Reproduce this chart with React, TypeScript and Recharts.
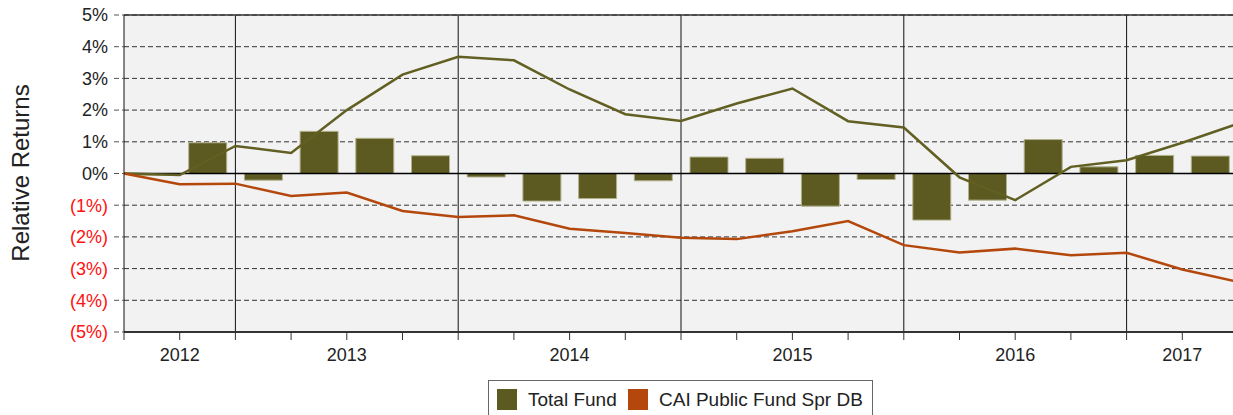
import React from "react"
import {
  ComposedChart,
  Bar,
  Line,
  XAxis,
  YAxis,
  CartesianGrid,
  ReferenceLine,
} from "recharts"

// quarterly relative return of Total Fund (bars)
const totalFundQuarterly = [
  -0.05, 0.97, -0.21, 1.33, 1.11, 0.56, -0.11, -0.87, -0.79, -0.23, 0.52, 0.48, -1.03, -0.19, -1.47, -0.84, 1.07,
  0.21, 0.57, 0.55,
]

// cumulative relative returns at quarter ends (lines)
const totalFundCumulative = [
  0, -0.05, 0.87, 0.65, 2.0, 3.12, 3.68, 3.57, 2.65, 1.87, 1.66, 2.21, 2.68, 1.65, 1.45, -0.12, -0.84, 0.21, 0.42,
  0.97, 1.57,
]
const caiCumulative = [
  0, -0.34, -0.32, -0.71, -0.6, -1.18, -1.37, -1.32, -1.74, -1.88, -2.03, -2.07, -1.82, -1.5, -2.26, -2.49, -2.37,
  -2.58, -2.5, -3.03, -3.42,
]

const quarterTicks = [0, 1, 2, 3, 4, 5, 6, 7, 8, 9, 10, 11, 12, 13, 14, 15, 16, 17, 18, 19, 20]
const yearTickAt = [1, 4, 8, 12, 16, 19]
const yearLabels = ["2012", "2013", "2014", "2015", "2016", "2017"]
const yearBoundaries = [2, 6, 10, 14, 18]
const yTicks = [-5, -4, -3, -2, -1, 0, 1, 2, 3, 4, 5]

const OLIVE = "#5c5a21"
const RUST = "#b4480c"
const FONT = "'Liberation Sans', Arial, Helvetica, sans-serif"

const barData = totalFundQuarterly.map((v, i) => ({ q: i, totalFund: v }))
const tfLine = totalFundCumulative.map((v, i) => ({ x: i, v }))
const caiLine = caiCumulative.map((v, i) => ({ x: i, v }))

const fmtPct = (v: number) => (v < 0 ? `(${Math.abs(v)}%)` : `${v}%`)

function YTick(props: any) {
  const { x, y, payload } = props
  const v = payload.value
  return (
    <text x={x} y={y} dy="0.35em" textAnchor="end" fontSize={18} fontFamily={FONT} fill={v < 0 ? "#ff1010" : "#222"}>
      {fmtPct(v)}
    </text>
  )
}

function XTick(props: any) {
  const { x, y, payload } = props
  const k = yearTickAt.indexOf(payload.value)
  if (k < 0) return <g />
  return (
    <text x={x} y={y} dy={19} textAnchor="middle" fontSize={18} fontFamily={FONT} fill="#222">
      {yearLabels[k]}
    </text>
  )
}

function YLabel() {
  return (
    <text
      x={20}
      y={173}
      transform="rotate(-90 20 173)"
      textAnchor="middle"
      dominantBaseline="central"
      fontSize={24}
      fontFamily={FONT}
      fill="#222"
    >
      Relative Returns
    </text>
  )
}

export default function App() {
  return (
    <div
      style={{
        position: "absolute",
        left: 0,
        top: 0,
        width: 1233,
        height: 415,
        overflow: "hidden",
        background: "#fff",
        fontFamily: FONT,
      }}
    >
      <ComposedChart width={1250} height={375} data={barData} margin={{ top: 15, right: 12, left: 0, bottom: 0 }}>
        <CartesianGrid
          vertical={false}
          horizontalValues={yTicks}
          stroke="#333"
          strokeDasharray="5 3"
          fill="#f2f2f2"
          yAxisId="y"
          xAxisId="line"
        />
        <XAxis xAxisId="bar" dataKey="q" type="category" height={0} hide />
        <XAxis
          xAxisId="line"
          dataKey="x"
          type="number"
          domain={[0, 20]}
          ticks={quarterTicks}
          interval={0}
          height={43}
          tickSize={8}
          tickMargin={2}
          tick={<XTick />}
          axisLine={{ stroke: "#333", strokeWidth: 2 }}
          tickLine={{ stroke: "#333" }}
        />
        <YAxis
          yAxisId="y"
          type="number"
          domain={[-5, 5]}
          ticks={yTicks}
          interval={0}
          width={124}
          tickSize={10}
          tickMargin={6}
          tick={<YTick />}
          axisLine={{ stroke: "#111" }}
          tickLine={{ stroke: "#555", strokeDasharray: "5 3" }}
          label={{ content: () => <YLabel /> }}
        />
        {yearBoundaries.map((b) => (
          <ReferenceLine key={b} x={b} xAxisId="line" yAxisId="y" stroke="#111" strokeWidth={1} />
        ))}
        <ReferenceLine y={5} xAxisId="line" yAxisId="y" stroke="#333" strokeWidth={1.5} />
        <Bar
          dataKey="totalFund"
          xAxisId="bar"
          yAxisId="y"
          fill={OLIVE}
          stroke="#b3b18c"
          strokeWidth={1}
          barSize={38}
          isAnimationActive={false}
        />
        <ReferenceLine y={0} xAxisId="line" yAxisId="y" stroke="#000" strokeWidth={1.5} />
        <Line
          data={tfLine}
          dataKey="v"
          xAxisId="line"
          yAxisId="y"
          stroke="#625f22"
          strokeWidth={2.5}
          dot={false}
          isAnimationActive={false}
        />
        <Line
          data={caiLine}
          dataKey="v"
          xAxisId="line"
          yAxisId="y"
          stroke={RUST}
          strokeWidth={2.5}
          dot={false}
          isAnimationActive={false}
        />
      </ComposedChart>
      <div
        style={{
          position: "absolute",
          left: 488,
          top: 380,
          width: 385,
          height: 45,
          border: "1px solid #666",
          boxSizing: "border-box",
          fontSize: 19,
          color: "#222",
        }}
      >
        <div style={{ position: "absolute", left: 8, top: 8, width: 20, height: 21, background: OLIVE }} />
        <div style={{ position: "absolute", left: 39, top: 7, lineHeight: "23px", whiteSpace: "nowrap" }}>
          Total Fund
        </div>
        <div style={{ position: "absolute", left: 139, top: 8, width: 20, height: 21, background: RUST }} />
        <div style={{ position: "absolute", left: 170, top: 7, lineHeight: "23px", whiteSpace: "nowrap" }}>
          CAI Public Fund Spr DB
        </div>
      </div>
    </div>
  )
}
